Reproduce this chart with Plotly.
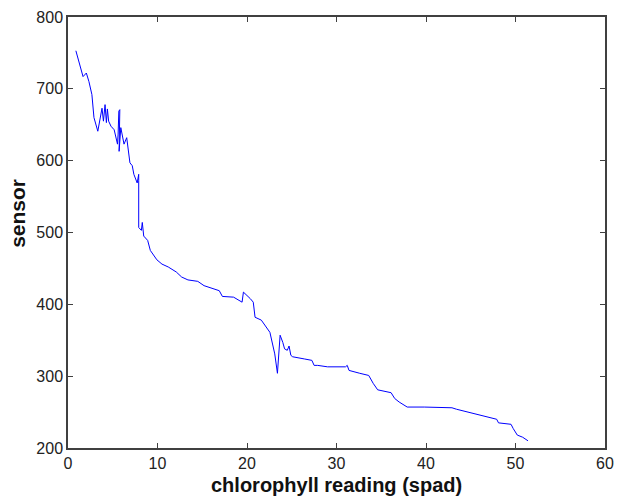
import plotly.graph_objects as go

spad = [0.88, 1.68, 2.05, 2.34, 2.67, 2.9, 3.33, 3.59, 3.8, 3.96, 4.14, 4.29, 4.4, 4.54,
        4.8, 5.16, 5.35, 5.53, 5.6, 5.68, 5.79, 5.71, 5.9, 6.26, 6.56, 6.74, 6.92, 7.18,
        7.36, 7.73, 7.9, 7.9, 7.9, 8.2, 8.3, 8.46, 8.7, 8.9, 9.2, 9.93, 10.5, 11.2, 12.1,
        12.7, 13.4, 14.5, 15.2, 16.2, 16.9, 17.25, 18.5, 19.45, 19.6, 20.36, 20.7, 20.9,
        21.6, 22.56, 22.9, 23.1, 23.4, 23.6, 23.7, 24.0, 24.2, 24.5, 24.7, 24.9, 25.1,
        26.4, 27.25, 27.5, 27.9, 29.0, 31.0, 31.2, 31.4, 32.6, 33.6, 34.1, 34.6, 36.1,
        36.5, 37.0, 37.9, 39.8, 42.9, 43.4, 46.0, 47.5, 47.9, 48.1, 49.5, 49.75, 50.2,
        50.8, 51.4]
sensor = [753, 717, 722, 710, 692, 660, 641, 660, 673, 655, 678, 653, 672, 655,
          648, 643, 630, 623, 637, 669, 671, 613, 646, 623, 632, 611, 597, 593,
          581, 569, 581, 572, 507, 503, 514, 495, 491, 489, 475, 462, 456, 452, 445,
          438, 434, 432, 426, 422, 419, 411, 410, 403, 417, 408, 403, 382,
          378, 361, 343, 331, 304, 336, 357, 347, 338, 336, 342, 329, 327,
          324, 322, 315, 315, 313, 313, 315, 308, 304, 301, 290, 281, 277,
          269, 264, 257, 257, 256, 254, 246, 241, 240, 235, 233, 227, 218,
          215, 210]

x_ticks = [0, 10, 20, 30, 40, 50, 60]
y_ticks = [200, 300, 400, 500, 600, 700, 800]
x_title = "chlorophyll reading (spad)"
y_title = "sensor"

tick_font = dict(family="Liberation Sans, Arial", size=16, color="#222")
title_font = dict(family="Liberation Sans, Arial", size=20, color="#111")

fig = go.Figure(go.Scatter(x=spad, y=sensor, mode="lines",
                           line=dict(color="#0000ff", width=1)))

axis_common = dict(showgrid=False, zeroline=False, showline=True, mirror="ticks",
                   linecolor="#404040", linewidth=1.5, ticks="inside", ticklen=5,
                   tickcolor="#404040", tickwidth=1, tickfont=tick_font)

fig.update_layout(
    width=623, height=497, plot_bgcolor="white", paper_bgcolor="white",
    margin=dict(l=68, r=9, t=16, b=49),
    showlegend=False,
    xaxis=dict(range=[0, 60], tickvals=x_ticks, **axis_common),
    yaxis=dict(range=[200, 800], tickvals=y_ticks, **axis_common),
    annotations=[
        dict(text="<b>" + x_title + "</b>", x=0.5, xref="paper", y=0, yref="paper",
             xanchor="center", yanchor="middle", yshift=-37, showarrow=False,
             font=title_font),
        dict(text="<b>" + y_title + "</b>", x=0, xref="paper", y=526, yref="y",
             xanchor="center", yanchor="middle", xshift=-50, textangle=-90,
             showarrow=False, font=dict(title_font, size=21)),
    ],
)

fig.write_html("out.html")
